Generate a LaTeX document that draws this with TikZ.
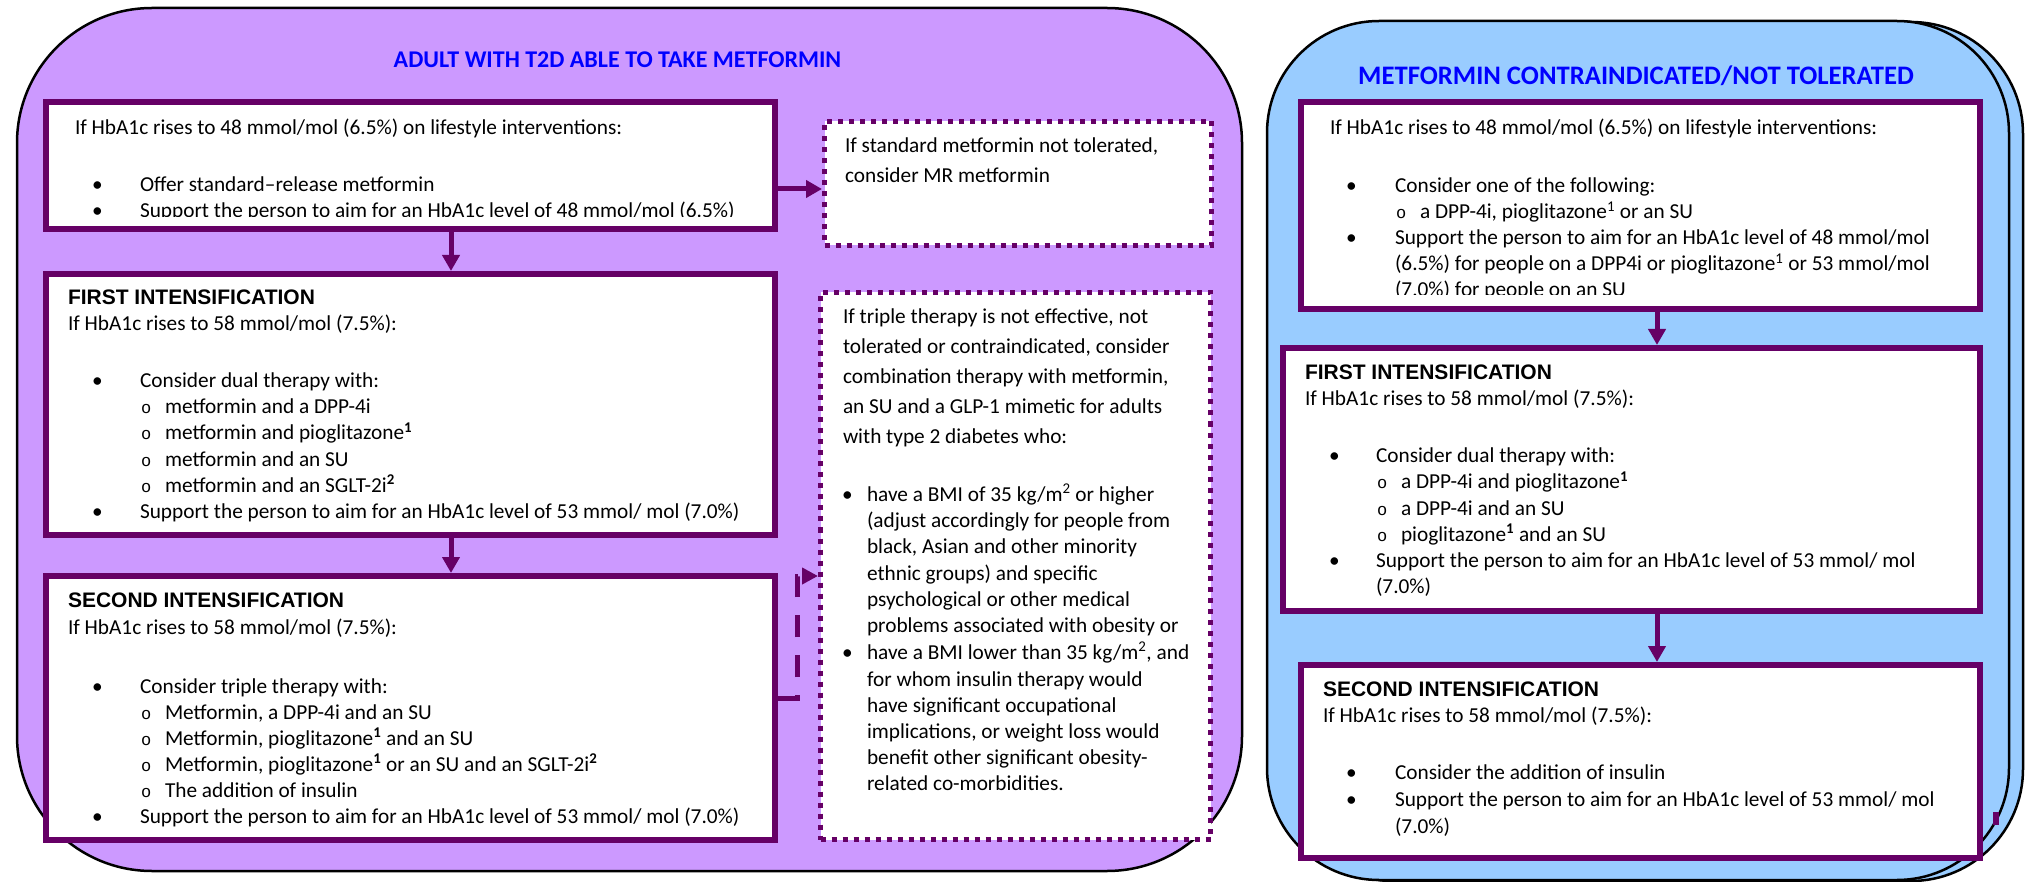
\documentclass[tikz,border=0pt]{standalone}
\usepackage{fontspec}
\setmainfont{Carlito}
\newfontfamily\hfont{Liberation Sans}
\newfontfamily\monofnt{Liberation Mono}
\usetikzlibrary{arrows.meta,calc}
\definecolor{pcol}{HTML}{660066}
\definecolor{lilac}{HTML}{CC99FF}
\definecolor{sky}{HTML}{99CCFF}
\definecolor{ttl}{HTML}{0000FF}
\newcounter{tl}
\newcommand\T[4][tx]{\stepcounter{tl}\node[#1] (t\the\value{tl}) at (#2,#3) {#4};}
\newcommand\supr[1]{\textsuperscript{\textbf{#1}}}
\tikzset{
  tx/.style={anchor=base west, inner sep=0pt, outer sep=0pt, font=\fontsize{21.3}{26}\selectfont},
  hd/.style={tx, font=\hfont\bfseries\fontsize{21}{24}\selectfont},
  ci/.style={tx, font=\monofnt\fontsize{17}{24}\selectfont},
  outer/.style={draw=black, line width=2.5pt},
  pbox/.style={draw=pcol, fill=white, line width=6pt, inner sep=0pt},
  dbox/.style={draw=pcol, fill=white, line width=5pt, dash pattern=on 5pt off 6pt, inner sep=0pt},
  arr/.style={draw=pcol, line width=5pt, -{Triangle[length=16pt,width=17pt]}},
  darr/.style={draw=pcol, line width=5pt, dash pattern=on 22pt off 18pt, -{Triangle[length=16pt,width=16pt]}},
  ttlstyle/.style={anchor=base, inner sep=0pt, text=ttl}
}
\begin{document}
\begin{tikzpicture}[x=1pt,y=-1pt]
\useasboundingbox (0,0) rectangle (2030,882);
% containers
\draw[outer, fill=lilac, rounded corners=135pt] (17,8) rectangle (1242,871);
\draw[outer, fill=sky, rounded corners=112pt] (1281,22) rectangle (2023,881);
\draw[outer, fill=sky, rounded corners=112pt] (1267,21) rectangle (2009,880);
\fill[pcol] (1993,812) rectangle (1999,825);
% titles
\node[ttlstyle, font=\bfseries\fontsize{24}{28}\selectfont] (ttlL) at (617.5,68) {ADULT WITH T2D ABLE TO TAKE METFORMIN};
\node[ttlstyle, font=\bfseries\fontsize{26.7}{30}\selectfont] (ttlR) at (1636,85) {METFORMIN CONTRAINDICATED/NOT TOLERATED};
% boxes
\node[pbox, minimum width=729pt, minimum height=127pt] (A) at (410.5,165.5) {};
\node[pbox, minimum width=729pt, minimum height=261pt] (B) at (410.5,404.5) {};
\node[pbox, minimum width=729pt, minimum height=264pt] (C) at (410.5,708) {};
\node[dbox, minimum width=387pt, minimum height=124pt] (E) at (1018,183.5) {};
\node[dbox, minimum width=390pt, minimum height=547pt] (D) at (1015.5,566) {};
\node[pbox, minimum width=679pt, minimum height=207pt] (F) at (1640.5,205.5) {};
\node[pbox, minimum width=697pt, minimum height=263pt] (G) at (1631.5,479.5) {};
\node[pbox, minimum width=679pt, minimum height=193pt] (H) at (1640.5,761.5) {};
% connectors
\draw[arr] (451,0 |- A.south) -- (451,0 |- B.north);
\draw[arr] (451,0 |- B.south) -- (451,0 |- C.north);
\draw[arr] (A.east |- 0,189) -- (E.west |- 0,189);
\draw[darr] (C.east |- 0,698) -- (797,698) -- (797,576) -- (D.west |- 0,576);
\draw[arr] (1657,0 |- F.south) -- (1657,0 |- G.north);
\draw[arr] (1657,0 |- G.south) -- (1657,0 |- H.north);
% box A text
\begin{scope}
\clip (49,105) rectangle (772,217);
\T{75}{135}{If HbA1c rises to 48 mmol/mol (6.5\%) on lifestyle interventions:}
\T{92}{192}{\textbullet}\T{140}{192}{Offer standard–release metformin}
\T{92}{218}{\textbullet}\T{140}{218}{Support the person to aim for an HbA1c level of 48 mmol/mol (6.5\%)}
\end{scope}
% box B
\T[hd]{68}{305}{FIRST INTENSIFICATION}
\T{68}{331}{If HbA1c rises to 58 mmol/mol (7.5\%):}
\T{92}{388}{\textbullet}\T{140}{388}{Consider dual therapy with:}
\T[ci]{141}{414}{o}\T{165}{414}{metformin and a DPP-4i}
\T[ci]{141}{440}{o}\T{165}{440}{metformin and pioglitazone\supr{1}}
\T[ci]{141}{466}{o}\T{165}{466}{metformin and an SU}
\T[ci]{141}{492}{o}\T{165}{492}{metformin and an SGLT-2i\supr{2}}
\T{92}{518}{\textbullet}\T{140}{518}{Support the person to aim for an HbA1c level of 53 mmol/ mol (7.0\%)}
% box C
\T[hd]{68}{607}{SECOND INTENSIFICATION}
\T{68}{634}{If HbA1c rises to 58 mmol/mol (7.5\%):}
\T{92}{693}{\textbullet}\T{140}{693}{Consider triple therapy with:}
\T[ci]{141}{719}{o}\T{165}{719}{Metformin, a DPP-4i and an SU}
\T[ci]{141}{745}{o}\T{165}{745}{Metformin, pioglitazone\supr{1} and an SU}
\T[ci]{141}{771}{o}\T{165}{771}{Metformin, pioglitazone\supr{1} or an SU and an SGLT-2i\supr{2}}
\T[ci]{141}{797}{o}\T{165}{797}{The addition of insulin}
\T{92}{823}{\textbullet}\T{140}{823}{Support the person to aim for an HbA1c level of 53 mmol/ mol (7.0\%)}
% box E
\T{845}{153}{If standard metformin not tolerated,}
\T{845}{183}{consider MR metformin}
% box D
\T{843}{324}{If triple therapy is not effective, not}
\T{843}{354}{tolerated or contraindicated, consider}
\T{843}{384}{combination therapy with metformin,}
\T{843}{414}{an SU and a GLP-1 mimetic for adults}
\T{843}{444}{with type 2 diabetes who:}
\T{842}{501}{\textbullet}\T{867}{501}{have a BMI of 35 kg/m\textsuperscript{2} or higher}
\T{867}{527}{(adjust accordingly for people from}
\T{867}{553}{black, Asian and other minority}
\T{867}{580}{ethnic groups) and specific}
\T{867}{606}{psychological or other medical}
\T{867}{632}{problems associated with obesity or}
\T{842}{659}{\textbullet}\T{867}{659}{have a BMI lower than 35 kg/m\textsuperscript{2}, and}
\T{867}{686}{for whom insulin therapy would}
\T{867}{712}{have significant occupational}
\T{867}{738}{implications, or weight loss would}
\T{867}{764}{benefit other significant obesity-}
\T{867}{790}{related co-morbidities.}
% box F
\begin{scope}
\clip (1304,105) rectangle (1977,295);
\T{1330}{135}{If HbA1c rises to 48 mmol/mol (6.5\%) on lifestyle interventions:}
\T{1346}{193}{\textbullet}\T{1395}{193}{Consider one of the following:}
\T[ci]{1396}{219}{o}\T{1420}{219}{a DPP-4i, pioglitazone\textsuperscript{1} or an SU}
\T{1346}{245}{\textbullet}\T{1395}{245}{Support the person to aim for an HbA1c level of 48 mmol/mol}
\T{1395}{271}{(6.5\%) for people on a DPP4i or pioglitazone\textsuperscript{1} or 53 mmol/mol}
\T{1395}{297}{(7.0\%) for people on an SU}
\end{scope}
% box G
\T[hd]{1305}{380}{FIRST INTENSIFICATION}
\T{1305}{406}{If HbA1c rises to 58 mmol/mol (7.5\%):}
\T{1329}{463}{\textbullet}\T{1376}{463}{Consider dual therapy with:}
\T[ci]{1377}{489}{o}\T{1401}{489}{a DPP-4i and pioglitazone\supr{1}}
\T[ci]{1377}{515}{o}\T{1401}{515}{a DPP-4i and an SU}
\T[ci]{1377}{541}{o}\T{1401}{541}{pioglitazone\supr{1} and an SU}
\T{1329}{567}{\textbullet}\T{1376}{567}{Support the person to aim for an HbA1c level of 53 mmol/ mol}
\T{1376}{593}{(7.0\%)}
% box H
\T[hd]{1323}{696}{SECOND INTENSIFICATION}
\T{1323}{722}{If HbA1c rises to 58 mmol/mol (7.5\%):}
\T{1346}{779}{\textbullet}\T{1395}{779}{Consider the addition of insulin}
\T{1346}{806}{\textbullet}\T{1395}{806}{Support the person to aim for an HbA1c level of 53 mmol/ mol}
\T{1395}{833}{(7.0\%)}
\end{tikzpicture}
\end{document}
